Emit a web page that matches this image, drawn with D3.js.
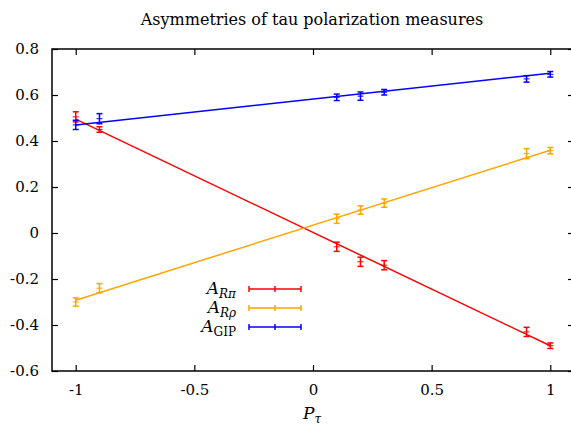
<!DOCTYPE html>
<html>
<head>
<meta charset="utf-8">
<style>
    body { margin: 0; background: #fff; }
    svg text { font-family: "DejaVu Serif", serif !important; fill: #000; }
</style>
</head>
<body>
<svg width="571" height="427"></svg>
<script src="https://d3js.org/d3.v7.min.js"></script>
<script>
// P_tau values of the measured points
let ptau = [-1, -0.9, 0.1, 0.2, 0.3, 0.9, 1];

// asymmetries and their errors
let aRpi = [0.505, 0.45, -0.06, -0.125, -0.14, -0.43, -0.49];
let aRpiErr = [0.022, 0.012, 0.02, 0.02, 0.02, 0.02, 0.012];
let aRrho = [-0.30, -0.24, 0.062, 0.10, 0.13, 0.345, 0.358];
let aRrhoErr = [0.018, 0.02, 0.02, 0.018, 0.018, 0.022, 0.014];
let aGIP = [0.47, 0.497, 0.59, 0.595, 0.612, 0.67, 0.69];
let aGIPErr = [0.02, 0.022, 0.014, 0.018, 0.012, 0.014, 0.012];

// straight-line fits, values at P_tau = -1 and 1
let fitX = [-1, 1];
let fitRpi = [0.495, -0.49];
let fitRrho = [-0.292, 0.36];
let fitGIP = [0.47, 0.695];

let xTicks = [-1, -0.5, 0, 0.5, 1];
let yTicks = [-0.6, -0.4, -0.2, 0, 0.2, 0.4, 0.6, 0.8];

let series = [
    { sub: "Rπ", italicSub: true, color: "#ff0000", y: aRpi, err: aRpiErr, fit: fitRpi },
    { sub: "Rρ", italicSub: true, color: "#ffa500", y: aRrho, err: aRrhoErr, fit: fitRrho },
    { sub: "GIP", italicSub: false, color: "#0000ff", y: aGIP, err: aGIPErr, fit: fitGIP }
];

let svg = d3.select("svg");
let margin = { top: 49, right: -3, bottom: 56, left: 52 };
let width = 571 - margin.left - margin.right;
let height = 427 - margin.top - margin.bottom;

let x = d3.scaleLinear().domain([-1.1, 1.1]).range([margin.left, margin.left + width]);
let y = d3.scaleLinear().domain([-0.6, 0.8]).range([margin.top + height, margin.top]);

// ticks on all four sides, pointing inward
let tick = 6;
let fmt = d => d === 0 ? "0" : String(d);

svg.append("g")
    .attr("transform", `translate(0,${y(-0.6)})`)
    .call(d3.axisBottom(x).tickValues(xTicks).tickSize(-tick).tickPadding(13).tickFormat(fmt))
    .call(g => g.select(".domain").remove());
svg.append("g")
    .attr("transform", `translate(0,${y(0.8)})`)
    .call(d3.axisTop(x).tickValues(xTicks).tickSize(-tick).tickFormat(""))
    .call(g => g.select(".domain").remove());
svg.append("g")
    .attr("transform", `translate(${x(-1.1)},0)`)
    .call(d3.axisLeft(y).tickValues(yTicks).tickSize(-tick).tickPadding(13).tickFormat(fmt))
    .call(g => g.select(".domain").remove());
svg.append("g")
    .attr("transform", `translate(${x(1.1)},0)`)
    .call(d3.axisRight(y).tickValues(yTicks).tickSize(-tick).tickFormat(""))
    .call(g => g.select(".domain").remove());

svg.selectAll(".tick line").attr("stroke", "#000").attr("stroke-width", 1.2);
svg.selectAll(".tick text").attr("font-size", 15);

svg.append("rect")
    .attr("x", x(-1.1)).attr("y", y(0.8))
    .attr("width", x(1.1) - x(-1.1)).attr("height", y(-0.6) - y(0.8))
    .attr("fill", "none").attr("stroke", "#000").attr("stroke-width", 1.5);

// fit lines
let line = d3.line().x((d, i) => x(fitX[i])).y(d => y(d));
series.forEach(s => {
    svg.append("path")
        .attr("d", line(s.fit))
        .attr("fill", "none")
        .attr("stroke", s.color)
        .attr("stroke-width", 1.5);
});

// error bars
let cap = 3;
series.forEach(s => {
    let g = svg.append("g").attr("stroke", s.color).attr("stroke-width", 1.5);
    ptau.forEach((p, i) => {
        let cx = x(p), lo = y(s.y[i] - s.err[i]), hi = y(s.y[i] + s.err[i]);
        g.append("line").attr("x1", cx).attr("x2", cx).attr("y1", lo).attr("y2", hi);
        g.append("line").attr("x1", cx - cap).attr("x2", cx + cap).attr("y1", lo).attr("y2", lo);
        g.append("line").attr("x1", cx - cap).attr("x2", cx + cap).attr("y1", hi).attr("y2", hi);
        g.append("line").attr("x1", cx - cap).attr("x2", cx + cap).attr("y1", y(s.y[i])).attr("y2", y(s.y[i]))
            .attr("stroke-width", 1);
    });
});

// legend
let legY = [289, 308, 327];
series.forEach((s, i) => {
    let ly = legY[i];
    let t = svg.append("text")
        .attr("x", 236).attr("y", ly + 5)
        .attr("text-anchor", "end")
        .attr("font-size", 17);
    t.append("tspan").attr("font-style", "italic").text("A");
    t.append("tspan")
        .attr("font-size", 12)
        .attr("dy", 4)
        .attr("font-style", s.italicSub ? "italic" : "normal")
        .text(s.sub);
    let g = svg.append("g").attr("stroke", s.color).attr("stroke-width", 1.5);
    g.append("line").attr("x1", 249).attr("x2", 301).attr("y1", ly).attr("y2", ly);
    [249, 275, 301].forEach(lx => {
        g.append("line").attr("x1", lx).attr("x2", lx).attr("y1", ly - 3).attr("y2", ly + 3);
    });
});

// title and axis label
svg.append("text")
    .attr("x", 312).attr("y", 25)
    .attr("text-anchor", "middle")
    .attr("font-size", 16)
    .text("Asymmetries of tau polarization measures");

let xl = svg.append("text")
    .attr("x", 312).attr("y", 419)
    .attr("text-anchor", "middle")
    .attr("font-size", 17);
xl.append("tspan").attr("font-style", "italic").text("P");
xl.append("tspan").attr("font-style", "italic").attr("font-size", 12).attr("dy", 4).text("τ");
</script>
</body>
</html>
